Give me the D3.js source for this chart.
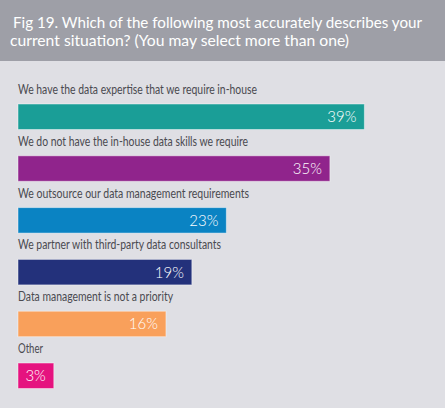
<!DOCTYPE html>
<html><head><meta charset="utf-8">
<script src="https://cdn.jsdelivr.net/npm/d3@7"></script>
<style>html,body{margin:0;padding:0;background:#dfdfe4;}svg{display:block;}</style>
</head><body>
<script>
const titleLines = ["Fig 19. Which of the following most accurately describes your", "current situation? (You may select more than one)"];
const categories = [
  "We have the data expertise that we require in-house",
  "We do not have the in-house data skills we require",
  "We outsource our data management requirements",
  "We partner with third-party data consultants",
  "Data management is not a priority",
  "Other"
];
const values = [39, 35, 23, 19, 16, 3];
const colors = ["#1a9e97", "#90248c", "#0a83c3", "#23317b", "#f9a05b", "#e5137f"];
const labelWidths = [239, 230, 231, 203, 155, 25];
const titleWidths = [409, 339];

const W = 445, H = 408;
const svg = d3.select("body").append("svg").attr("width", W).attr("height", H);
svg.append("rect").attr("width", W).attr("height", H).attr("fill", "#dfdfe4");
svg.append("rect").attr("width", W).attr("height", 61).attr("fill", "#9e9fa7");

const font = "Lato, 'Open Sans', sans-serif";
svg.selectAll("text.title").data(titleLines).join("text")
  .attr("class", "title")
  .attr("x", (d, i) => i === 0 ? 13 : 10)
  .attr("y", (d, i) => 28 + i * 18)
  .attr("fill", "#ffffff")
  .attr("font-family", font)
  .attr("font-size", 16)
  .attr("textLength", (d, i) => titleWidths[i])
  .attr("lengthAdjust", "spacingAndGlyphs")
  .text(d => d);

const x = d3.scaleLinear().domain([-1.15, 40]).range([18, 373]);
const y = d3.scaleBand().domain(categories).range([104, 388.5]).paddingInner(0.508).paddingOuter(0);
const bh = y.bandwidth();
const g = svg.append("g");
const rows = g.selectAll("g.row").data(categories).join("g").attr("class", "row");

rows.append("text")
  .attr("x", 18)
  .attr("y", d => y(d) - 10)
  .attr("fill", "#4a4a50")
  .attr("font-family", font)
  .attr("font-size", 12.5)
  .attr("textLength", (d, i) => labelWidths[i])
  .attr("lengthAdjust", "spacingAndGlyphs")
  .text(d => d);

rows.append("rect")
  .attr("x", 18)
  .attr("y", d => y(d))
  .attr("width", (d, i) => x(values[i]) - 18)
  .attr("height", bh)
  .attr("fill", (d, i) => colors[i])
  .attr("stroke", "rgba(255,255,255,0.45)")
  .attr("stroke-width", 1);

rows.append("text")
  .attr("x", (d, i) => x(values[i]) - 8)
  .attr("y", d => y(d) + bh / 2)
  .attr("dy", "0.36em")
  .attr("text-anchor", "end")
  .attr("fill", "#ffffff")
  .attr("font-family", font)
  .attr("font-weight", 300)
  .attr("font-size", 15)
  .text((d, i) => values[i] + "%");
</script>
</body></html>
